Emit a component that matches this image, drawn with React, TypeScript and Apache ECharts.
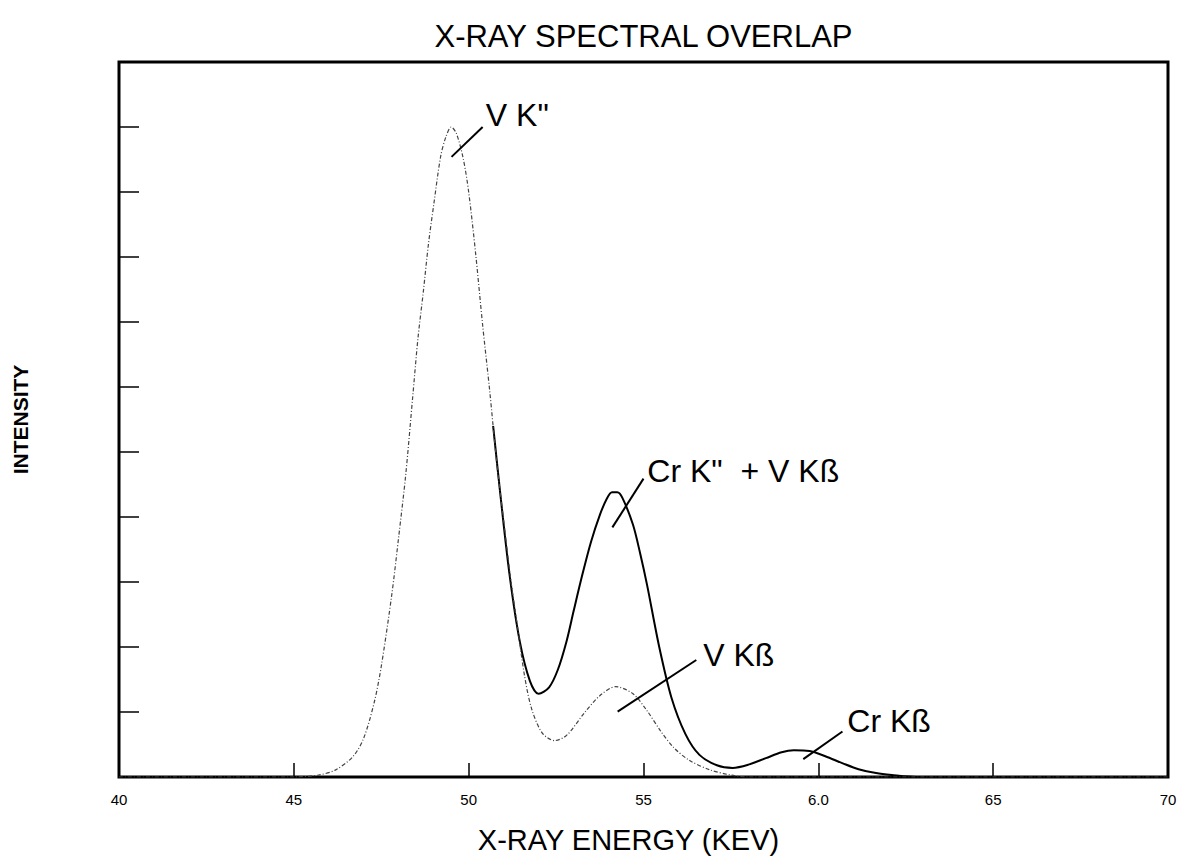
import React, { useEffect, useRef } from "react";
import * as echarts from "echarts";

// Vanadium spectrum (V Kα + V Kβ), dotted curve
const energyV = [4.0, 4.5, 4.57, 4.62, 4.67, 4.7, 4.73, 4.75, 4.78, 4.8, 4.82, 4.84, 4.855, 4.87, 4.885, 4.9, 4.92, 4.935, 4.95, 4.965, 4.985, 5.0, 5.02, 5.04, 5.06, 5.08, 5.1, 5.12, 5.14, 5.16, 5.18, 5.21, 5.245, 5.28, 5.33, 5.375, 5.42, 5.47, 5.51, 5.55, 5.585, 5.63, 5.69, 5.75, 5.8, 7.0];
const intensityV = [0, 0, 0.03, 0.11, 0.32, 0.6, 1.15, 1.7, 2.8, 3.7, 4.65, 5.85, 6.75, 7.45, 8.2, 8.8, 9.55, 9.85, 10.0, 9.9, 9.5, 9.0, 8.05, 6.95, 5.95, 4.85, 3.95, 3.05, 2.3, 1.55, 1.05, 0.68, 0.56, 0.64, 0.98, 1.25, 1.39, 1.28, 1.02, 0.7, 0.46, 0.26, 0.11, 0.03, 0, 0];

// Total spectrum (V + Cr), solid curve
const energyTotal = [5.07, 5.09, 5.117, 5.146, 5.175, 5.2, 5.23, 5.255, 5.28, 5.3, 5.325, 5.35, 5.375, 5.395, 5.41, 5.425, 5.44, 5.47, 5.49, 5.51, 5.545, 5.58, 5.62, 5.66, 5.71, 5.755, 5.8, 5.85, 5.895, 5.93, 5.975, 6.02, 6.07, 6.115, 6.165, 6.21, 6.28, 7.0];
const intensityTotal = [5.4, 4.38, 3.11, 2.09, 1.48, 1.28, 1.38, 1.65, 2.09, 2.55, 3.11, 3.62, 4.03, 4.28, 4.38, 4.38, 4.29, 3.88, 3.45, 2.96, 2.0, 1.22, 0.66, 0.34, 0.18, 0.14, 0.19, 0.29, 0.38, 0.41, 0.4, 0.32, 0.21, 0.12, 0.06, 0.03, 0, 0];

const xTickLabels = ["40", "45", "50", "55", "6.0", "65", "70"];

// Peak labels: text, leader start, leader end, label anchor (data coords)
const peakTexts = ['V K"', 'Cr K"  + V Kß', "V Kß", "Cr Kß"];
const leaderFrom = [[4.951, 9.54], [5.411, 3.84], [5.426, 1.007], [5.957, 0.275]];
const leaderTo = [[5.04, 10.0], [5.5, 4.59], [5.651, 1.8], [6.069, 0.7]];
const labelAt = [[5.049, 10.19], [5.511, 4.714], [5.671, 1.876], [6.083, 0.854]];

const FONT = "'Liberation Sans', Arial, Helvetica, sans-serif";

function zip(xs: number[], ys: number[]) {
  return xs.map((x, i) => [x, ys[i]]);
}

export default function App() {
  const ref = useRef<HTMLDivElement>(null);
  useEffect(() => {
    if (!ref.current) return;
    const chart = echarts.init(ref.current, undefined, { renderer: "svg" });
    chart.setOption({
      animation: false,
      backgroundColor: "#fff",
      grid: {
        left: 119,
        width: 1049,
        top: 62,
        height: 721,
        show: true,
        borderColor: "#000",
        borderWidth: 3,
      },
      xAxis: {
        type: "value",
        min: 4,
        max: 7,
        interval: 0.5,
        axisLine: { show: false },
        axisTick: { inside: true, length: 14, lineStyle: { color: "#000", width: 1.5 } },
        axisLabel: {
          margin: 15,
          fontSize: 15,
          color: "#000",
          fontFamily: FONT,
          formatter: (v: number) => xTickLabels[Math.round((v - 4) / 0.5)] ?? "",
        },
        splitLine: { show: false },
        name: "X-RAY ENERGY (KEV)",
        nameLocation: "middle",
        nameGap: 48,
        nameTextStyle: { fontSize: 29, color: "#000", fontFamily: FONT, padding: [0, 30, 0, 0] },
      },
      yAxis: {
        type: "value",
        min: 0,
        max: 11,
        interval: 1,
        axisLine: { show: false },
        axisTick: { inside: true, length: 20, lineStyle: { color: "#000", width: 1.5 } },
        axisLabel: { show: false },
        splitLine: { show: false },
        name: "INTENSITY",
        nameLocation: "middle",
        nameGap: 88,
        nameRotate: 90,
        nameTextStyle: { fontSize: 21, fontWeight: "bold", color: "#000", fontFamily: FONT },
      },
      series: [
        {
          type: "line",
          data: zip(energyV, intensityV),
          showSymbol: false,
          smooth: 0.3,
          lineStyle: { color: "#444", width: 1.2, type: [4, 2, 1, 2] },
          z: 3,
        },
        {
          type: "line",
          data: zip(energyTotal, intensityTotal),
          showSymbol: false,
          smooth: 0.3,
          lineStyle: { color: "#000", width: 2 },
          z: 2,
        },
      ],
    });

    const graphics: any[] = [];
    const tl = chart.convertToPixel({ gridIndex: 0 }, [4, 11]) as number[];
    const br = chart.convertToPixel({ gridIndex: 0 }, [7, 0]) as number[];
    graphics.push({
      type: "text",
      x: (tl[0] + br[0]) / 2,
      y: 36,
      style: {
        text: "X-RAY SPECTRAL OVERLAP",
        fontSize: 31,
        fontFamily: FONT,
        fill: "#000",
        textAlign: "center",
        textVerticalAlign: "middle",
      },
    });
    peakTexts.forEach((t, i) => {
      const a = chart.convertToPixel({ gridIndex: 0 }, leaderFrom[i]) as number[];
      const b = chart.convertToPixel({ gridIndex: 0 }, leaderTo[i]) as number[];
      const c = chart.convertToPixel({ gridIndex: 0 }, labelAt[i]) as number[];
      graphics.push({
        type: "line",
        shape: { x1: a[0], y1: a[1], x2: b[0], y2: b[1] },
        style: { stroke: "#000", lineWidth: 2 },
        z: 10,
      });
      graphics.push({
        type: "text",
        x: c[0],
        y: c[1],
        style: {
          text: t,
          fontSize: 32,
          fontFamily: FONT,
          fill: "#000",
          textAlign: "left",
          textVerticalAlign: "middle",
        },
        z: 10,
      });
    });
    chart.setOption({ graphic: graphics });

    return () => chart.dispose();
  }, []);
  return (
    <div
      ref={ref}
      style={{ position: "fixed", left: 0, top: 0, width: 1182, height: 859, background: "#fff" }}
    />
  );
}
